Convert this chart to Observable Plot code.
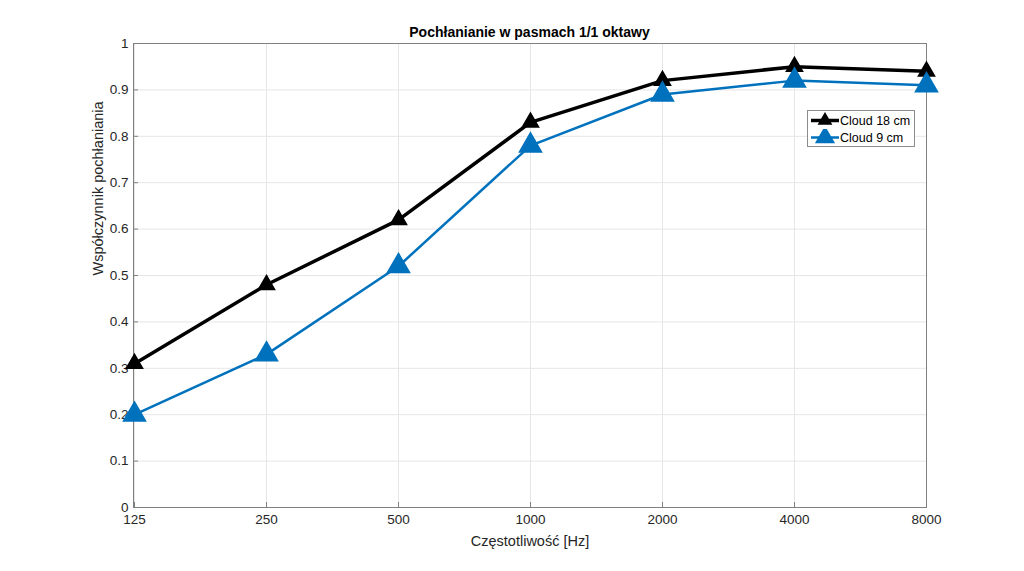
<!DOCTYPE html>
<html>
<head>
<meta charset="utf-8">
<script src="https://cdn.jsdelivr.net/npm/d3@7"></script>
<script src="https://cdn.jsdelivr.net/npm/@observablehq/plot@0.6"></script>
<style>
  html, body { margin: 0; padding: 0; background: #fff; }
  #wrap { position: relative; width: 1024px; height: 571px; font-family: "Liberation Sans", Arial, sans-serif; }
  #title { position: absolute; left: 133px; width: 793px; top: 24px; text-align: center; font-weight: bold; font-size: 14px; color: #000; }
  #legend { position: absolute; left: 807px; top: 110px; width: 106px; height: 35px; border: 1px solid #8c8c8c; background: #fff; font-size: 12.5px; color: #000; }
  .row { position: absolute; left: 1px; height: 17px; display: flex; align-items: center; white-space: nowrap; }
  .row svg { display: block; flex: none; }
  .row span { margin-left: 0px; white-space: nowrap; }
</style>
</head>
<body>
<div id="wrap">
  <div id="chart"></div>
  <div id="title">Pochłanianie w pasmach 1/1 oktawy</div>
  <div id="legend"></div>
</div>
<script>
const freqLabels = ["125", "250", "500", "1000", "2000", "4000", "8000"];
const cloud18 = [0.31, 0.48, 0.62, 0.83, 0.92, 0.95, 0.94];
const cloud9 = [0.20, 0.33, 0.52, 0.78, 0.89, 0.92, 0.91];
const yTicks = [0, 0.1, 0.2, 0.3, 0.4, 0.5, 0.6, 0.7, 0.8, 0.9, 1];
const seriesNames = ["Cloud 18 cm", "Cloud 9 cm"];
const seriesColors = ["#000000", "#0072BD"];

const d18 = freqLabels.map((f, i) => ({f, v: cloud18[i]}));
const d9 = freqLabels.map((f, i) => ({f, v: cloud9[i]}));

const axisColor = "#808080";
const textColor = "#262626";

const chart = Plot.plot({
  width: 1024,
  height: 571,
  marginLeft: 133,
  marginRight: 98,
  marginTop: 43,
  marginBottom: 64,
  style: {fontFamily: "Liberation Sans, Arial, sans-serif", fontSize: "13px", color: textColor, background: "white"},
  x: {type: "point", domain: freqLabels, padding: 0},
  y: {domain: [0, 1]},
  marks: [
    Plot.gridX(freqLabels, {stroke: "#e6e6e6", strokeOpacity: 1}),
    Plot.gridY(yTicks, {stroke: "#e6e6e6", strokeOpacity: 1}),
    Plot.frame({stroke: axisColor}),
    Plot.axisX(freqLabels, {tickSize: -5, tickPadding: 12, stroke: axisColor, fill: textColor, label: null, fontSize: 13.5}),
    Plot.axisY(yTicks, {tickSize: -5, tickPadding: 10, stroke: axisColor, fill: textColor, label: null, fontSize: 13.5, tickFormat: d => String(+d.toFixed(1))}),
    Plot.line(d18, {x: "f", y: "v", stroke: seriesColors[0], strokeWidth: 3.5}),
    Plot.line(d9, {x: "f", y: "v", stroke: seriesColors[1], strokeWidth: 2.5}),
    Plot.dot(d18, {x: "f", y: "v", symbol: "triangle", r: 6, fill: seriesColors[0], stroke: seriesColors[0]}),
    Plot.dot(d9, {x: "f", y: "v", symbol: "triangle", r: 8.2, fill: seriesColors[1], stroke: seriesColors[1]}),
    Plot.text(["Częstotliwość [Hz]"], {frameAnchor: "bottom", dy: 38, fill: textColor, fontSize: 14.5}),
    Plot.text(["Współczynnik pochłaniania"], {frameAnchor: "left", dx: -35, rotate: -90, fill: textColor, fontSize: 14.5})
  ]
});
document.getElementById("chart").appendChild(chart);

// legend
const leg = document.getElementById("legend");
const lw = [3.5, 2.5], lr = [5.5, 7.5];
seriesNames.forEach((name, i) => {
  const row = document.createElement("div");
  row.className = "row";
  row.style.top = (i * 17 + 1) + "px";
  const r = lr[i];
  const h = Math.sqrt(r * r * Math.PI / (Math.sqrt(3) / 4));
  const cy = 8.5, cx = 16;
  const tri = `${cx - h / 2},${cy + h * Math.sqrt(3) / 6} ${cx + h / 2},${cy + h * Math.sqrt(3) / 6} ${cx},${cy - h * Math.sqrt(3) / 3}`;
  row.innerHTML = `<svg width="31" height="17"><line x1="2" x2="30" y1="${cy}" y2="${cy}" stroke="${seriesColors[i]}" stroke-width="${lw[i]}"/><polygon points="${tri}" fill="${seriesColors[i]}"/></svg><span>${name}</span>`;
  leg.appendChild(row);
});
</script>
</body>
</html>
